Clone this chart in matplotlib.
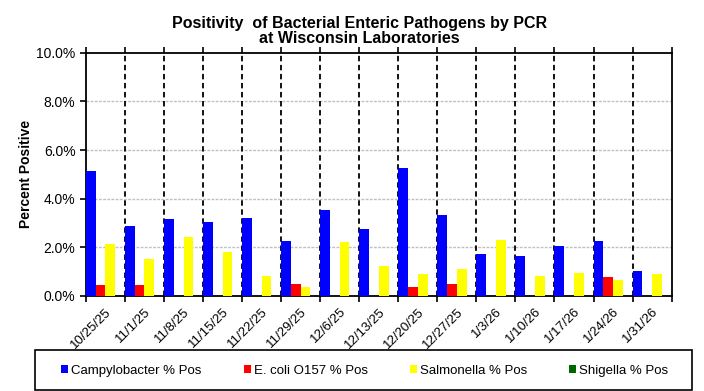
import numpy as np
import matplotlib.pyplot as plt
from matplotlib.patches import Rectangle
from matplotlib.ticker import FuncFormatter

plt.rcParams['font.family'] = ['Liberation Sans', 'DejaVu Sans']

weeks = ['10/25/25', '11/1/25', '11/8/25', '11/15/25', '11/22/25', '11/29/25', '12/6/25',
         '12/13/25', '12/20/25', '12/27/25', '1/3/26', '1/10/26', '1/17/26', '1/24/26', '1/31/26']
campy = [5.12, 2.87, 3.16, 3.03, 3.20, 2.25, 3.52, 2.75, 5.25, 3.32, 1.72, 1.64, 2.05, 2.25, 1.02]
ecoli = [0.45, 0.45, 0, 0, 0, 0.49, 0, 0, 0.37, 0.49, 0, 0, 0, 0.78, 0]
salmonella = [2.13, 1.52, 2.42, 1.80, 0.82, 0.37, 2.21, 1.23, 0.90, 1.11, 2.30, 0.82, 0.94, 0.66, 0.90]
shigella = [0] * 15

fig = plt.figure(figsize=(7.04, 3.91), dpi=100)
ax = fig.add_axes([0.122, 0.243, 0.832, 0.622])

x = np.arange(len(weeks))
w = 0.25
series = [(campy, 'Campylobacter % Pos', '#0000ff'),
          (ecoli, 'E. coli O157 % Pos', '#ff0000'),
          (salmonella, 'Salmonella % Pos', '#ffff00'),
          (shigella, 'Shigella % Pos', '#006600')]
for i, (vals, lab, col) in enumerate(series):
    ax.bar(x - 0.5 + w * i, vals, width=w, align='edge', color=col, label=lab,
           linewidth=0, zorder=3)

ax.set_xlim(-0.5, len(weeks) - 0.5)
ax.set_ylim(0, 10)
ax.set_yticks(np.arange(0, 11, 2))
ax.yaxis.set_major_formatter(FuncFormatter(lambda v, p: f'{v:.1f}%'))
ax.tick_params(axis='y', labelsize=10, length=4.5, width=1.2, pad=3)

# dashed separators between weeks
for b in x[:-1] + 0.5:
    ax.axvline(b, color='black', linestyle=(0, (3, 2)), linewidth=1.3, zorder=2)
for yv in [2, 4, 6, 8]:
    ax.axhline(yv, color='#c0c0c0', linestyle=(0, (2, 1)), linewidth=1, zorder=1)

ax.set_xticks(x)
ax.set_xticklabels(weeks, rotation=45, ha='right', rotation_mode='anchor', fontsize=9.5)
ax.tick_params(axis='x', length=0, pad=7)
ax.set_xticks(np.arange(-0.5, len(weeks)), minor=True)
ax.tick_params(axis='x', which='minor', length=4, width=1.2, direction='out', top=True)
for s in ax.spines.values():
    s.set_linewidth(1.3)

ax.set_ylabel('Percent Positive', fontsize=10, fontweight='bold', labelpad=2)
fig.text(0.511, 0.96, 'Positivity  of Bacterial Enteric Pathogens by PCR\nat Wisconsin Laboratories',
         ha='center', va='top', fontsize=11.5, fontweight='bold', linespacing=1.05)

# legend box
fig.patches.append(Rectangle((35 / 704, 1 / 391), 657 / 704, 40 / 391, transform=fig.transFigure,
                             fill=False, edgecolor='black', linewidth=1.2))
fig.legend(loc='center', bbox_to_anchor=(0.518, 0.052), ncol=4, fontsize=9.5, frameon=False,
           handlelength=0.55, handleheight=0.55, handletextpad=0.2, columnspacing=3.2,
           borderpad=0, borderaxespad=0)

plt.savefig('out.png', dpi=100)
